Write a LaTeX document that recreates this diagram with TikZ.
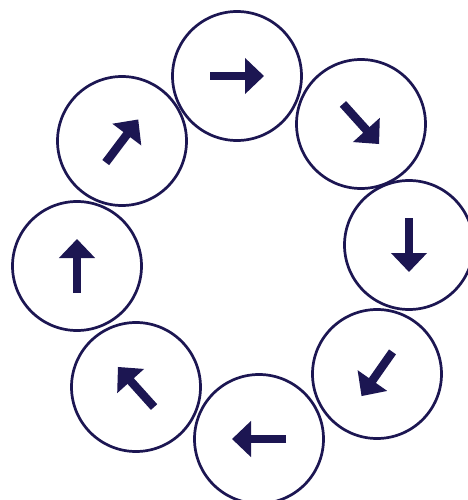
\documentclass[tikz,border=0pt]{standalone}
\usetikzlibrary{arrows.meta,calc}
\definecolor{navy}{HTML}{1C1652}

\begin{document}
\begin{tikzpicture}[
  x=1pt, y=-1pt,
  ring/.style={circle, draw=navy, line width=2.7pt, minimum size=129pt, inner sep=0pt},
  spin/.style={-{Triangle[length=19pt, width=35pt]}, line width=8.5pt, draw=navy}
]
\useasboundingbox (0,0) rectangle (467,500);
% ---------------- ring of circles, arrows turning clockwise
\foreach \px/\py/\ang [count=\i] in {237/76/0, 361/124/-48, 409/245/-90, 377/374/-125,
                                      259/439/180, 136/387/132, 77/266/90, 122/141/53} {
  \node[ring] (c\i) at (\px,\py) {};
  \draw[spin] ($(c\i)+(\ang+180:27pt)$) -- ($(c\i)+(\ang:27pt)$);
}
\end{tikzpicture}
\end{document}
